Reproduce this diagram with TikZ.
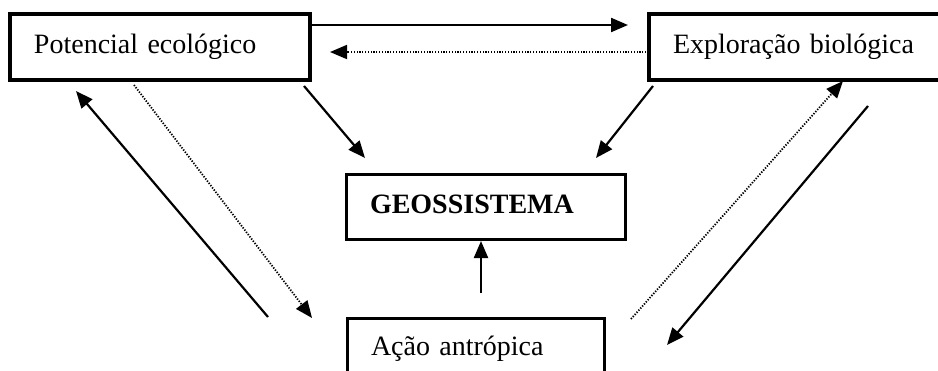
\documentclass[tikz,border=0pt]{standalone}
\usepackage{fontspec}
\setmainfont{Liberation Serif}
\usetikzlibrary{arrows.meta}
\begin{document}
\begin{tikzpicture}[x=1pt,y=-1pt,
  box/.style={draw, line width=3.6pt, rectangle, inner xsep=24pt, inner ysep=0pt,
    text height=19pt, text depth=6pt, align=left, anchor=center,
    font=\fontsize{28}{32}\selectfont},
  thinbox/.style={box, line width=3pt},
  arr/.style={line width=2.2pt, -{Triangle[length=17pt,width=14pt]}},
  dotarr/.style={line width=1.8pt, dash pattern=on 1.3pt off 1.5pt, -{Triangle[length=17pt,width=14pt]}}
]
\useasboundingbox (0,0) rectangle (938,370);
\clip (0,0) rectangle (938,370);
\fill[white] (0,0) rectangle (938,370);

\node[box, minimum width=300pt, minimum height=66pt, text width=252pt] (pe) at (160,47) {Potencial ecológico};
\node[box, minimum width=301pt, minimum height=66pt, text width=253pt] (eb) at (799.5,47) {Exploração biológica};
\node[thinbox, minimum width=279pt, minimum height=65pt, text width=231pt] (geo) at (485.5,206.5) {\bfseries GEOSSISTEMA};
\node[thinbox, minimum width=257pt, minimum height=61pt, text width=209pt] (aa) at (475.5,348.5) {Ação antrópica};

% top arrows
\coordinate (t1s) at (310,25);
\coordinate (t1e) at (628,25);
\draw[arr] (t1s) -- (t1e);
\coordinate (t2s) at (649,52);
\coordinate (t2e) at (330,52);
\draw[dotarr] (t2s) -- (t2e);

% to geossistema
\coordinate (g1s) at (304,86);
\coordinate (g1e) at (365,158);
\draw[arr] (g1s) -- (g1e);
\coordinate (g2s) at (653,86);
\coordinate (g2e) at (596,158);
\draw[arr] (g2s) -- (g2e);
\coordinate (g3s) at (481,293);
\draw[arr] (g3s) -- (481,241) coordinate (g3e);

% left side
\coordinate (l1s) at (268,317);
\coordinate (l1e) at (76,91);
\draw[arr] (l1s) -- (l1e);
\coordinate (l2s) at (134,85);
\coordinate (l2e) at (312,318);
\draw[dotarr] (l2s) -- (l2e);

% right side
\coordinate (r1s) at (631,319);
\coordinate (r1e) at (843,81);
\draw[dotarr] (r1s) -- (r1e);
\coordinate (r2s) at (868,106);
\coordinate (r2e) at (667,345);
\draw[arr] (r2s) -- (r2e);
\end{tikzpicture}
\end{document}
